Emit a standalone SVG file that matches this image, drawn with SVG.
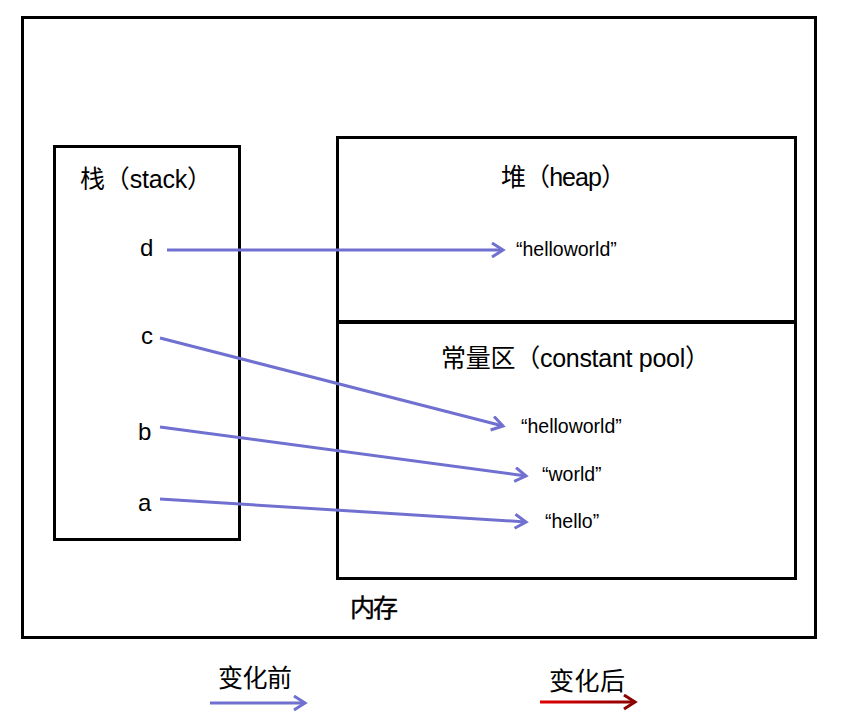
<svg xmlns="http://www.w3.org/2000/svg" width="853" height="727" viewBox="0 0 853 727">
<style>
.box{fill:none;stroke:#000;stroke-width:3}
.t{font-family:"Liberation Sans","Noto Sans CJK SC",sans-serif;font-size:24px;fill:#000}
.h{font-family:"Liberation Sans","Noto Sans CJK SC",sans-serif;font-size:25px;fill:#000}
.s{font-family:"Liberation Sans","Noto Sans CJK SC",sans-serif;font-size:19.5px;fill:#000}
.arr{stroke:#7070D0;stroke-width:3;fill:none;marker-end:url(#ah)}
</style>
<defs>
<marker id="ah" markerUnits="userSpaceOnUse" markerWidth="16" markerHeight="18" refX="13" refY="8" orient="auto">
<path d="M2,1 L13,8 L2,15" fill="none" stroke="#7070D0" stroke-width="3"/>
</marker>
<marker id="ahr" markerUnits="userSpaceOnUse" markerWidth="16" markerHeight="18" refX="13" refY="8" orient="auto">
<path d="M2,1 L13,8 L2,15" fill="none" stroke="#8B0000" stroke-width="3"/>
</marker>
<linearGradient id="rg" gradientUnits="userSpaceOnUse" x1="540" y1="0" x2="635" y2="0">
<stop offset="0" stop-color="#E00000"/>
<stop offset="1" stop-color="#8B0000"/>
</linearGradient>
</defs>
<rect width="853" height="727" fill="#fff"/>
<g id="memory">
<rect class="box" x="22.5" y="17.5" width="793" height="620"/>
<text class="h" x="350" y="617" textLength="48" stroke="#000" stroke-width="0.4">内存</text>
</g>
<g id="stack">
<rect class="box" x="54.5" y="146.5" width="185" height="393"/>
<text class="h" x="80" y="188" textLength="132">栈（stack）</text>
<text class="t" x="140" y="256">d</text>
<text class="t" x="141" y="344">c</text>
<text class="t" x="138" y="440">b</text>
<text class="t" x="138" y="511">a</text>
</g>
<g id="heap">
<rect class="box" x="337.5" y="137.5" width="458" height="185"/>
<text class="h" x="501" y="186" textLength="125">堆（heap）</text>
<text class="s" x="516" y="256">“helloworld”</text>
</g>
<g id="pool">
<rect class="box" x="337.5" y="322.5" width="458" height="256"/>
<line x1="337" y1="322" x2="796" y2="322" stroke="#000" stroke-width="4"/>
<text class="h" x="441" y="367" textLength="269">常量区（constant pool）</text>
<text class="s" x="521" y="433">“helloworld”</text>
<text class="s" x="542" y="481">“world”</text>
<text class="s" x="545" y="528">“hello”</text>
</g>
<g id="connectors">
<line class="arr" x1="167" y1="250" x2="503" y2="250"/>
<line class="arr" x1="160" y1="338" x2="503" y2="426"/>
<line class="arr" x1="160" y1="427" x2="526" y2="476"/>
<line class="arr" x1="160" y1="499" x2="526" y2="522"/>
</g>
<g id="legend">
<text class="h" x="218" y="687" textLength="74">变化前</text>
<line class="arr" x1="210" y1="703" x2="305" y2="703"/>
<text class="h" x="549" y="690" textLength="76">变化后</text>
<line x1="540" y1="702" x2="635" y2="702" stroke="url(#rg)" stroke-width="3" marker-end="url(#ahr)"/>
</g>
</svg>
